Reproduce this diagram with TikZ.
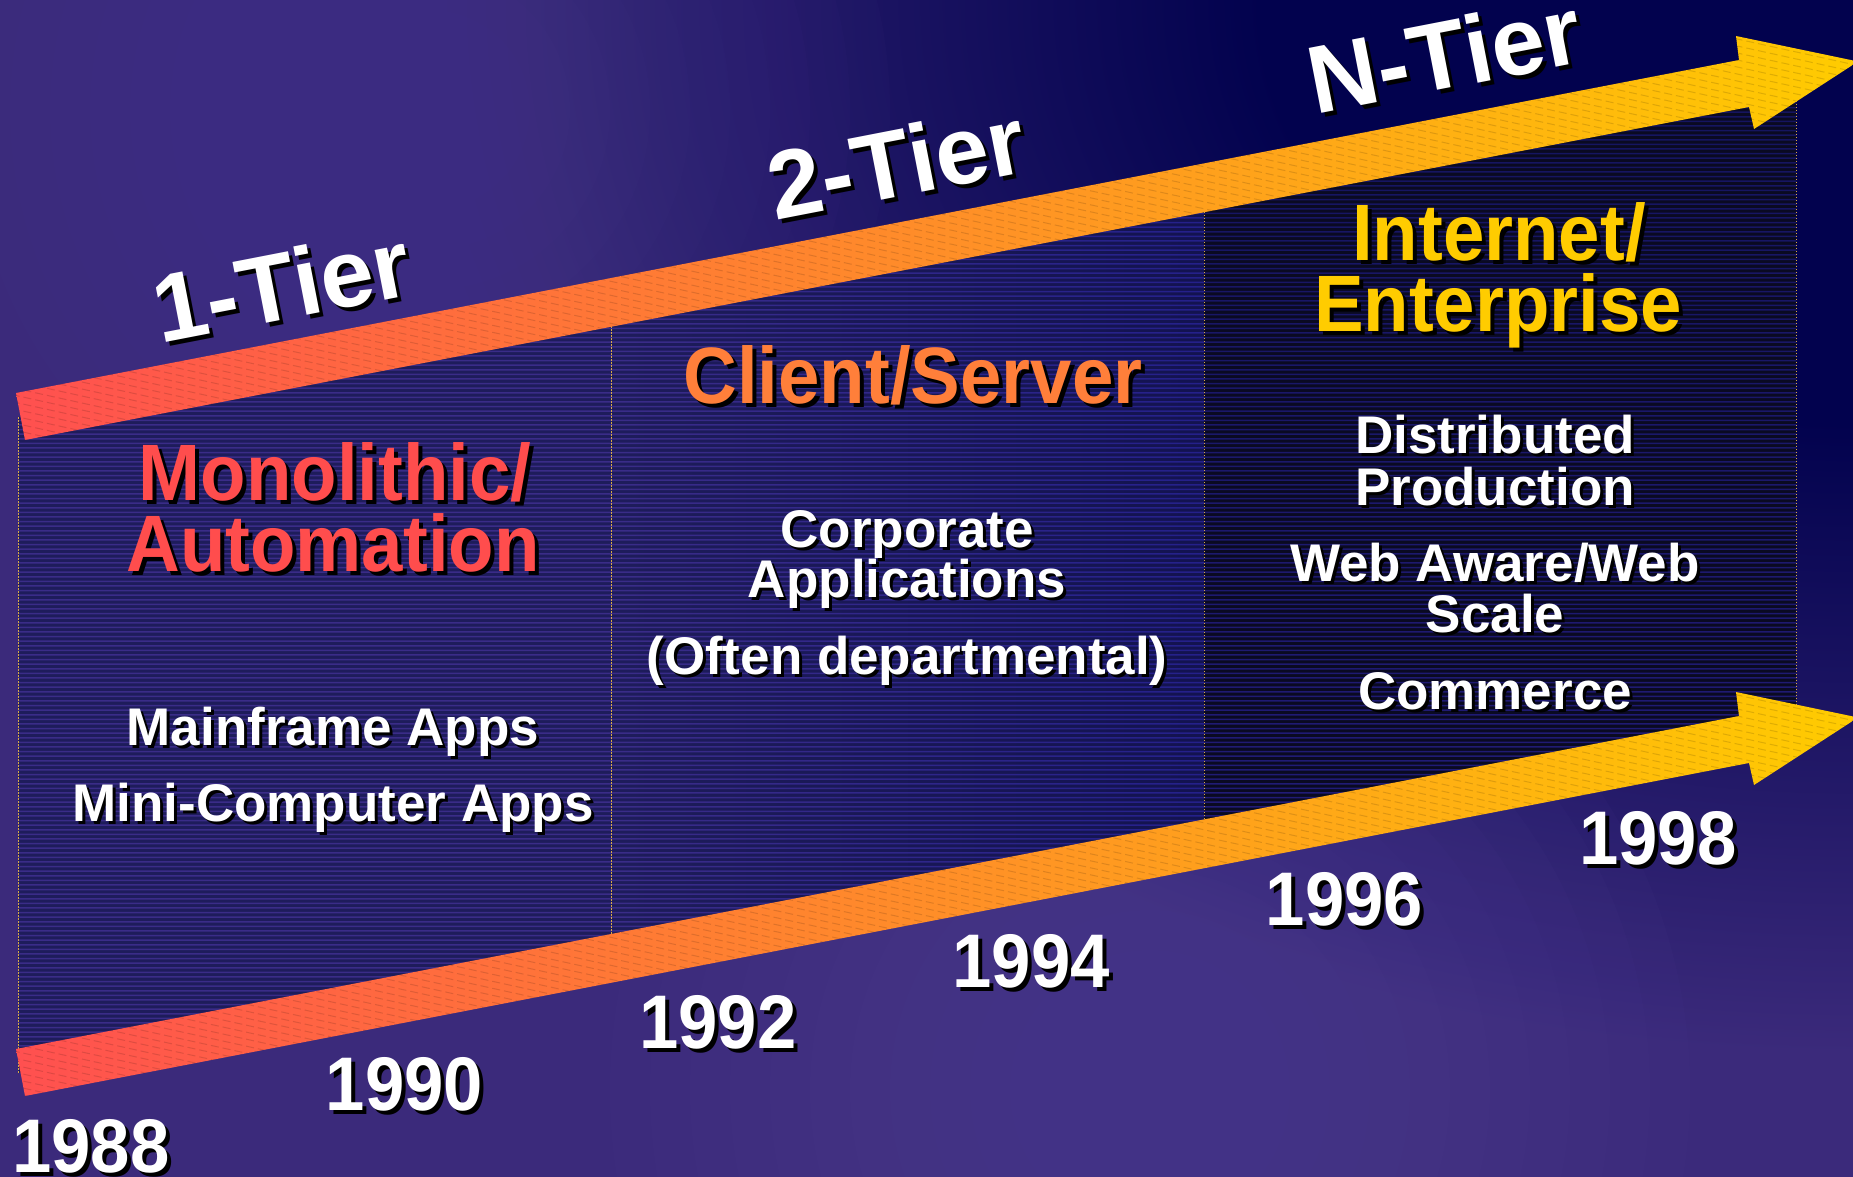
\documentclass[tikz,border=0pt]{standalone}
\usepackage{fontspec}
\setmainfont{Liberation Sans}
\usepackage{graphicx}
\usetikzlibrary{calc}
\definecolor{bgpurple}{HTML}{3B2A7B}
\definecolor{bgpurplelight}{HTML}{4E3E94}
\definecolor{bgnavy}{HTML}{02024E}
\definecolor{panelA}{HTML}{1E1C5B}
\definecolor{panelB}{HTML}{131350}
\definecolor{panelC}{HTML}{0A0A22}
\definecolor{stripeA}{HTML}{3A2C88}
\definecolor{stripeB}{HTML}{24208A}
\definecolor{stripeCtop}{HTML}{14145E}
\definecolor{stripeCbot}{HTML}{261E80}
\definecolor{arrowred}{HTML}{FF5050}
\definecolor{arroworange}{HTML}{FF9838}
\definecolor{arrowyellow}{HTML}{FFCC00}
\definecolor{txtred}{HTML}{FF4D4D}
\definecolor{txtorange}{HTML}{FF7F3A}
\definecolor{txtyellow}{HTML}{FFCC00}
\definecolor{divider}{HTML}{D8A848}
\pgfdeclareradialshading{bgglow}{\pgfpointorigin}{color(0bp)=(bgnavy); color(420bp)=(bgnavy); color(1050bp)=(bgpurple); color(2300bp)=(bgpurple)}
\newcommand{\sqz}[1]{\scalebox{0.93}[1]{#1}}
\newcommand{\ShText}[6]{%
  \node[#4,text=black] (#1-sh) at ($(#2)+#6$) {#5};
  \node[#4,text=#3] (#1) at (#2) {#5};}
\begin{document}
\begin{tikzpicture}[x=1pt,y=1pt,
  tier/.style={font=\fontsize{96}{96}\selectfont\bfseries, rotate=11, anchor=base, inner sep=0pt},
  head/.style={font=\fontsize{80}{80}\selectfont\bfseries, anchor=base, inner sep=0pt},
  body/.style={font=\fontsize{53}{53}\selectfont\bfseries, anchor=base, inner sep=0pt},
  yearlbl/.style={font=\fontsize{76}{76}\selectfont\bfseries, anchor=base, inner sep=0pt},
  divline/.style={draw=divider, line width=1pt, dash pattern=on 1.5pt off 1.5pt},
  arrowfill/.style={left color=arrowred, middle color=arroworange, right color=arrowyellow},
  arrowstripe/.style={draw=black, draw opacity=0.13, line width=1pt, dash pattern=on 8pt off 4pt}]
\useasboundingbox (0,0) rectangle (1853,-1176);
% background
\begin{scope}
  \clip (0,0) rectangle (1853,-1176);
  \fill[bgpurple] (0,0) rectangle (1853,-1176);
  \begin{scope}[shift={(1853,0)}, xscale=1.4]
    \node[inner sep=0pt, outer sep=0pt, transform shape] (glow) at (0,0) {\pgfuseshading{bgglow}};
  \end{scope}
  \foreach \r in {540,500,...,120} {
    \fill[bgpurplelight, fill opacity=0.08] (1150,-1090) circle (\r);
  }
  \foreach \r in {460,420,...,100} {
    \fill[bgpurplelight, fill opacity=0.05] (430,-110) circle (\r);
  }
\end{scope}
% panels
\fill[panelA] (18,-417) -- (611,-302.4) -- (611,-958.4) -- (18,-1073) -- cycle;
\shade[left color=panelA, right color=panelB] (611,-302.4) -- (1204,-187.9) -- (1204,-843.9) -- (611,-958.4) -- cycle;
\fill[panelC] (1204,-187.9) -- (1796,-73.5) -- (1796,-729.5) -- (1204,-843.9) -- cycle;
\begin{scope}
  \clip (18,-417) -- (611,-302.4) -- (611,-958.4) -- (18,-1073) -- cycle;
  \fill[stripeA] foreach \k in {0,...,225} { (18,{-70-4.6*\k}) rectangle (611,{-71.5-4.6*\k}) };
\end{scope}
\begin{scope}
  \clip (611,-302.4) -- (1204,-187.9) -- (1204,-843.9) -- (611,-958.4) -- cycle;
  \shade[left color=stripeA, right color=stripeB] foreach \k in {0,...,225} { (611,{-70-4.6*\k}) rectangle (1204,{-71.5-4.6*\k}) };
\end{scope}
\begin{scope}
  \clip (1204,-187.9) -- (1796,-73.5) -- (1796,-729.5) -- (1204,-843.9) -- cycle;
  \shade[top color=stripeCtop, bottom color=stripeCbot] foreach \k in {0,...,225} { (1204,{-70-4.6*\k}) rectangle (1796,{-71.5-4.6*\k}) };
\end{scope}
\draw[divline] (18,-417) -- (18,-1073);
\draw[divline] (611,-302.4) -- (611,-958.4);
\draw[divline] (1204,-187.9) -- (1204,-843.9);
\draw[divline] (1796,-73.5) -- (1796,-729.5);
% arrows
\shade[arrowfill] (16,-393) -- (1739,-60) -- (1736,-36) -- (1858,-61.5) -- (1754,-129) -- (1749,-107) -- (25,-440) -- cycle;
\begin{scope}
  \clip (16,-393) -- (1739,-60) -- (1736,-36) -- (1858,-61.5) -- (1754,-129) -- (1749,-107) -- (25,-440) -- cycle;
  \draw[arrowstripe] foreach \c in {-350,-343,...,440} { (0,{-\c}) -- (1860,{-\c-409}) };
\end{scope}
\shade[arrowfill] (16,-1049) -- (1739,-716) -- (1736,-692) -- (1858,-717.5) -- (1754,-785) -- (1749,-763) -- (25,-1096) -- cycle;
\begin{scope}
  \clip (16,-1049) -- (1739,-716) -- (1736,-692) -- (1858,-717.5) -- (1754,-785) -- (1749,-763) -- (25,-1096) -- cycle;
  \draw[arrowstripe] foreach \c in {306,313,...,1096} { (0,{-\c}) -- (1860,{-\c-409}) };
\end{scope}
% tier labels
\ShText{t1}{288,-319}{white}{tier}{1-Tier}{(4,-4)}
\ShText{t2}{903,-196}{white}{tier}{2-Tier}{(4,-4)}
\ShText{tN}{1451,-88}{white}{tier}{N-Tier}{(4,-4)}
% panel 1
\ShText{h1a}{335,-500}{txtred}{head}{\sqz{Monolithic/}}{(4,-4)}
\ShText{h1b}{333,-571}{txtred}{head}{\sqz{Automation}}{(4,-4)}
\ShText{b1a}{333,-745}{white}{body}{Mainframe Apps}{(3,-3)}
\ShText{b1b}{333,-821}{white}{body}{Mini-Computer Apps}{(3,-3)}
% panel 2
\ShText{h2}{913,-403}{txtorange}{head}{\sqz{Client/Server}}{(4,-4)}
\ShText{b2a}{907,-547}{white}{body}{Corporate}{(3,-3)}
\ShText{b2b}{907,-597}{white}{body}{Applications}{(3,-3)}
\ShText{b2c}{907,-674}{white}{body}{(Often departmental)}{(3,-3)}
% panel 3
\ShText{h3a}{1499,-260}{txtyellow}{head}{\sqz{Internet/}}{(4,-4)}
\ShText{h3b}{1498,-331}{txtyellow}{head}{\sqz{Enterprise}}{(4,-4)}
\ShText{b3a}{1495,-453}{white}{body}{Distributed}{(3,-3)}
\ShText{b3b}{1495,-505}{white}{body}{Production}{(3,-3)}
\ShText{b3c}{1495,-581}{white}{body}{Web Aware/Web}{(3,-3)}
\ShText{b3d}{1495,-632}{white}{body}{Scale}{(3,-3)}
\ShText{b3e}{1495,-709}{white}{body}{Commerce}{(3,-3)}
% years
\foreach \yr [count=\i from 0] in {1988,1990,1992,1994,1996,1998} {
  \ShText{y\yr}{{91+313.4*\i},{-1172+61.6*\i}}{white}{yearlbl}{\sqz{\yr}}{(4,-4)}
}
\end{tikzpicture}
\end{document}
